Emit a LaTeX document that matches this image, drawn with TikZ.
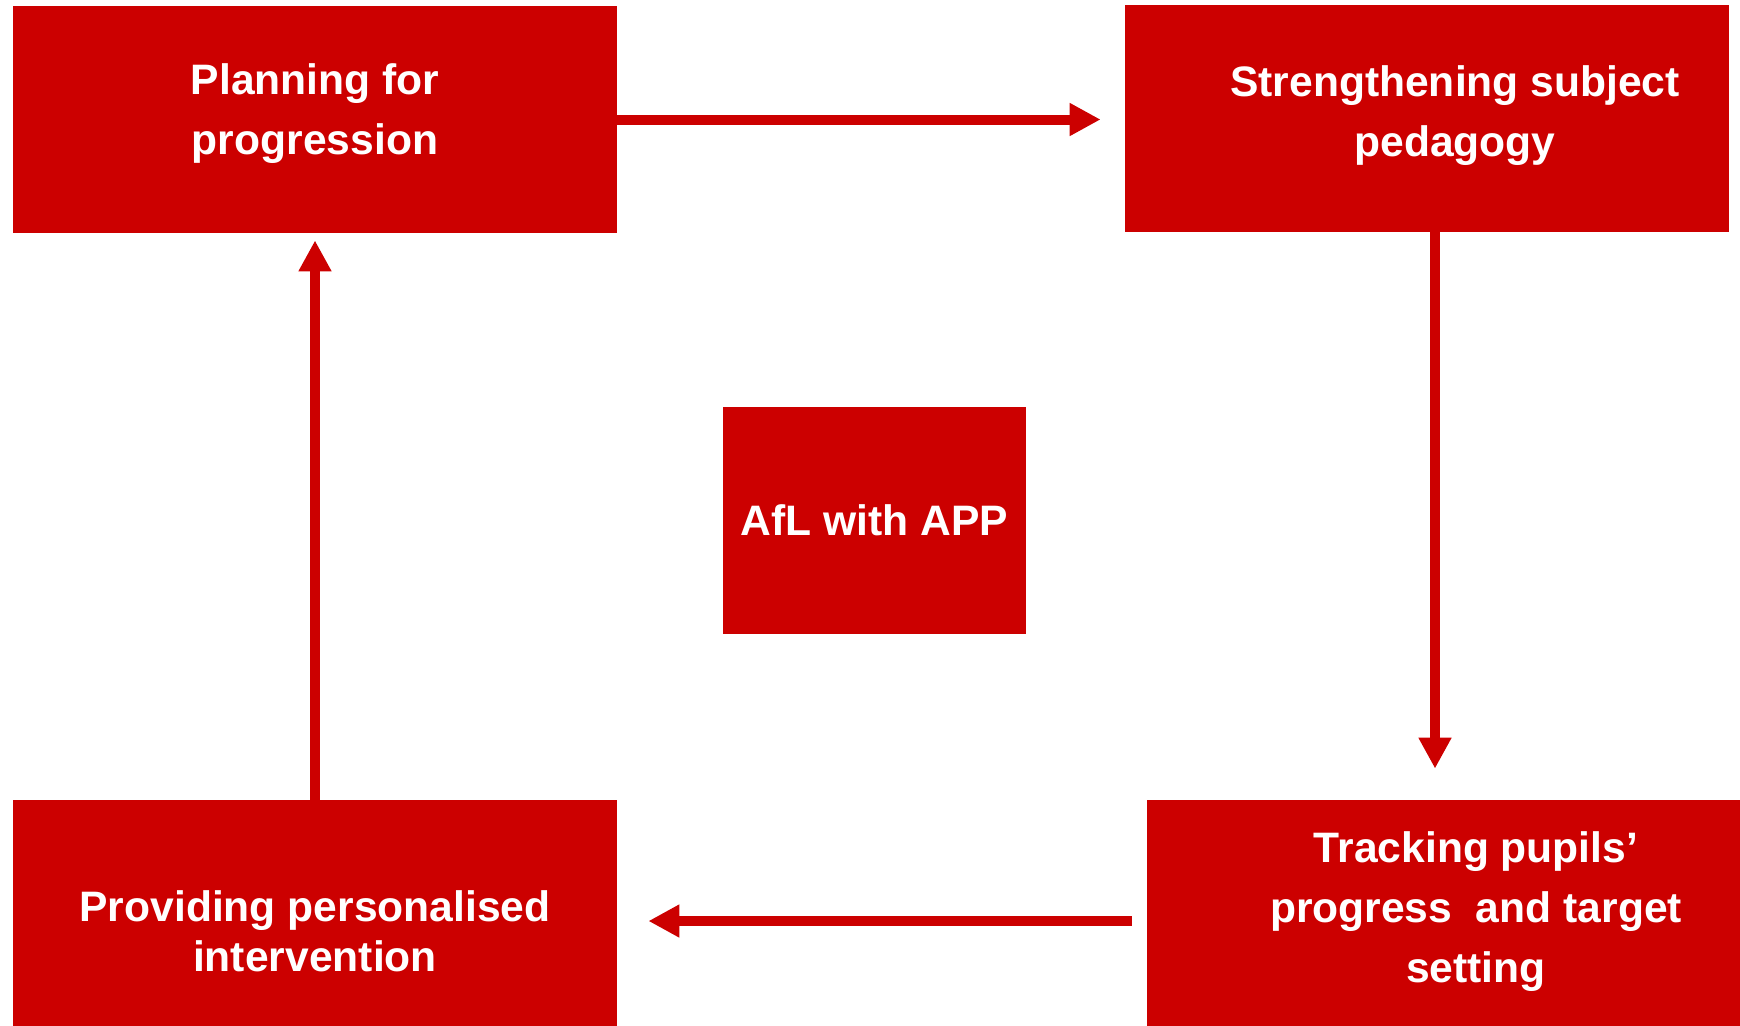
\documentclass[tikz,border=0pt]{standalone}
\usepackage{fontspec}
\setmainfont{Liberation Sans}
\usetikzlibrary{arrows.meta}
\definecolor{afred}{RGB}{204,0,0}

\begin{document}
\begin{tikzpicture}[x=0.5pt, y=-0.5pt,
        box/.style={fill=afred, draw=none, inner sep=0pt, minimum width=302pt, minimum height=113.5pt,
            text=white, align=center, font=\fontsize{21.3pt}{30pt}\selectfont\bfseries},
        boxtext/.style={text=white, align=center, font=\fontsize{21.3pt}{30pt}\selectfont\bfseries},
        flow/.style={afred, line width=5pt, -{Triangle[length=15.5pt, width=15.5pt]}}]
        \useasboundingbox (0,0) rectangle (1740,1025);

        % Boxes
        \node[box, label={[boxtext, yshift=2.75pt]center:{Planning for\\progression}}] (plan) at (315,119.5) {};
        \node[box, label={[boxtext, xshift=14pt, yshift=1.5pt]center:{Strengthening subject\\pedagogy}}] (peda) at (1427,118.5) {};
        \node[box, minimum height=128.5pt, label={[boxtext, yshift=-1.5pt]center:{Providing personalised\\[-5pt]intervention}}] (interv) at (315,928.5) {};
        \node[box, minimum height=125pt, label={[boxtext, xshift=13.5pt, yshift=6.5pt]center:{Tracking pupils’\\progress~ and target\\setting}}] (track) at (1449,925) {};
        \node[box, minimum width=151.5pt] (afl) at (874.5,520.5) {AfL with APP};

        % Cycle
        \draw[flow, shorten >=12pt] (plan.east) -- (plan.east -| peda.west);
        \draw[flow, shorten >=15.5pt] ([xshift=4pt]peda.south) -- ([xshift=4pt]peda.south |- track.north);
        \draw[flow, shorten <=7.5pt, shorten >=15.5pt] ([yshift=2pt]track.west) -- ([yshift=2pt]track.west -| interv.east);
        \draw[flow, shorten >=3.5pt] (interv.north) -- (plan.south);
\end{tikzpicture}
\end{document}
